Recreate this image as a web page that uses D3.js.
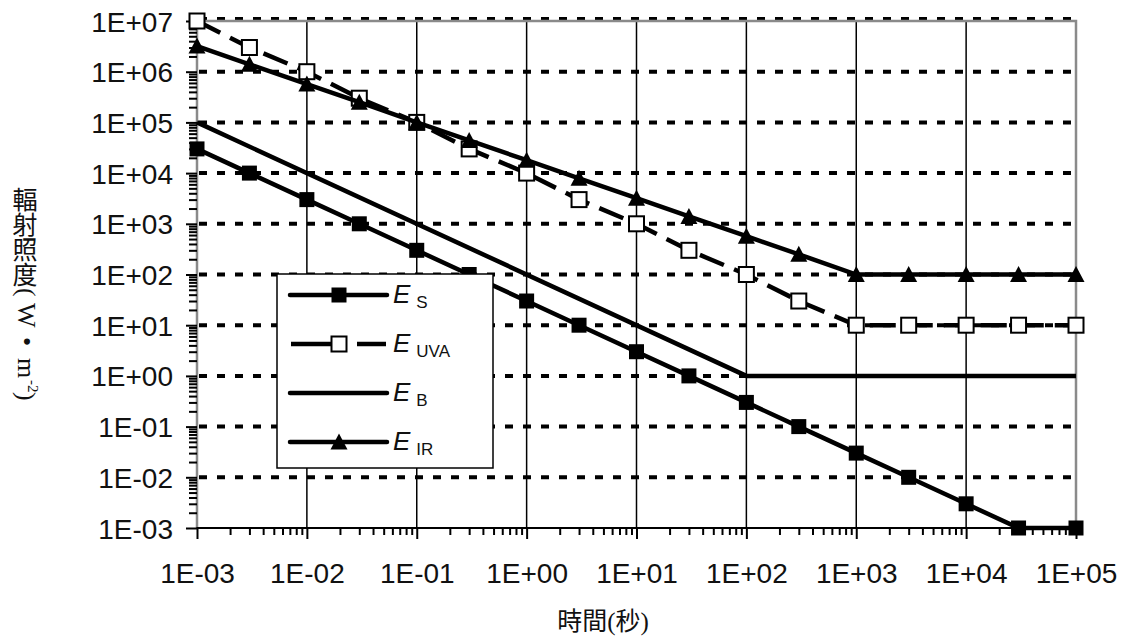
<!DOCTYPE html>
<html>
<head>
<meta charset="utf-8">
<script src="https://cdn.jsdelivr.net/npm/d3@7"></script>
<style>
  html, body { margin: 0; padding: 0; background: white; }
  svg { display: block; }
</style>
</head>
<body>
<div id="chart"></div>
<script>
// exposure times (s) shared by the marked series
const times = [1e-3, 3e-3, 1e-2, 3e-2, 0.1, 0.3, 1, 3, 10, 30, 100, 300, 1000, 3000, 1e4, 3e4, 1e5];
const esValues = [3e4, 1e4, 3e3, 1e3, 300, 100, 30, 10, 3, 1, 0.3, 0.1, 0.03, 0.01, 0.003, 0.001, 0.001];
const euvaValues = [1e7, 3e6, 1e6, 3e5, 1e5, 3e4, 1e4, 3e3, 1e3, 300, 100, 30, 10, 10, 10, 10, 10];
const eirValues = [3.2e6, 1.4e6, 5.7e5, 2.5e5, 1.0e5, 4.4e4, 1.8e4, 7.9e3, 3.2e3, 1.4e3, 570, 250, 100, 100, 100, 100, 100];
// E_B has no markers, only its corner points
const ebTimes = [1e-3, 100, 1e5];
const ebValues = [1e5, 1, 1];

const seriesNames = ['S', 'UVA', 'B', 'IR'];

const xTicks = [1e-3, 1e-2, 1e-1, 1e0, 1e1, 1e2, 1e3, 1e4, 1e5];
const xTickLabels = ['1E-03', '1E-02', '1E-01', '1E+00', '1E+01', '1E+02', '1E+03', '1E+04', '1E+05'];
const yTicks = [1e-3, 1e-2, 1e-1, 1e0, 1e1, 1e2, 1e3, 1e4, 1e5, 1e6, 1e7];
const yTickLabels = ['1E-03', '1E-02', '1E-01', '1E+00', '1E+01', '1E+02', '1E+03', '1E+04', '1E+05', '1E+06', '1E+07'];

const xTitle = '時間(秒)';
const yTitleCjk = '輻射照度';

const svgWidth = 1131;
const svgHeight = 636;
const plot = { left: 197, right: 1076, top: 21, bottom: 528 };
const tickFont = '"Liberation Sans", Arial, sans-serif';

const x = d3.scaleLog().domain([1e-3, 1e5]).range([plot.left, plot.right]);
const y = d3.scaleLog().domain([1e-3, 1e7]).range([plot.bottom, plot.top]);

// minor ticks 2..9 in each decade
const minorTicks = (domain) => {
  const out = [];
  for (let e = Math.log10(domain[0]); e < Math.log10(domain[1]); e++) {
    for (let m = 2; m <= 9; m++) out.push(m * Math.pow(10, e));
  }
  return out;
};

const svg = d3.select('#chart').append('svg')
  .attr('width', svgWidth)
  .attr('height', svgHeight)
  .style('background', 'white');

//vertical grid (solid, thin)
svg.append('g').selectAll('line')
  .data(xTicks.slice(1, -1))
  .join('line')
  .attr('x1', d => x(d)).attr('x2', d => x(d))
  .attr('y1', plot.top).attr('y2', plot.bottom)
  .attr('stroke', '#000').attr('stroke-width', 1.5);

//horizontal grid (thick dotted)
svg.append('g').selectAll('line')
  .data(yTicks.slice(1))
  .join('line')
  .attr('x1', plot.left + 2).attr('x2', plot.right)
  .attr('y1', d => y(d) - (d === 1e7 ? 2 : 0)).attr('y2', d => y(d) - (d === 1e7 ? 2 : 0))
  .attr('stroke', '#000').attr('stroke-width', 4)
  .attr('stroke-dasharray', '8,10');

//plot frame: grey top/right/left, black bottom
svg.append('path')
  .attr('d', `M${plot.left},${plot.bottom}V${plot.top}H${plot.right}V${plot.bottom}`)
  .attr('fill', 'none').attr('stroke', '#8a8a8a').attr('stroke-width', 2.5);

//x axis
const xAxisG = svg.append('g').attr('transform', `translate(0,${plot.bottom})`);
xAxisG.append('g')
  .call(d3.axisBottom(x).tickValues(minorTicks(x.domain())).tickFormat('').tickSize(7).tickSizeOuter(0))
  .call(g => g.select('.domain').remove())
  .call(g => g.selectAll('line').attr('stroke-width', 2));
xAxisG.append('g')
  .call(d3.axisBottom(x).tickValues(xTicks).tickFormat((d, i) => xTickLabels[i]).tickSize(11).tickSizeOuter(0))
  .call(g => g.select('.domain').remove())
  .call(g => g.selectAll('line').attr('stroke-width', 2).attr('y1', -1))
  .call(g => g.selectAll('text')
    .attr('y', 55).attr('dy', 0)
    .attr('font-family', tickFont).attr('font-size', 28).attr('fill', '#111'));
xAxisG.append('line')
  .attr('x1', plot.left).attr('x2', plot.right)
  .attr('stroke', '#000').attr('stroke-width', 2);

//y axis
const yAxisG = svg.append('g').attr('transform', `translate(${plot.left},0)`);
yAxisG.append('g')
  .call(d3.axisLeft(y).tickValues(minorTicks(y.domain())).tickFormat('').tickSize(8).tickSizeOuter(0))
  .call(g => g.select('.domain').remove())
  .call(g => g.selectAll('line').attr('stroke-width', 2));
yAxisG.append('g')
  .call(d3.axisLeft(y).tickValues(yTicks).tickFormat((d, i) => yTickLabels[i]).tickSize(11).tickSizeOuter(0))
  .call(g => g.select('.domain').remove())
  .call(g => g.selectAll('line').attr('stroke-width', 2))
  .call(g => g.selectAll('text')
    .attr('x', -24).attr('dy', 10)
    .attr('font-family', tickFont).attr('font-size', 28).attr('fill', '#111'));

//series
const line = d3.line().x(d => x(d[0])).y(d => y(d[1]));
const pairs = (xs, ys) => xs.map((t, i) => [t, ys[i]]);

const esData = pairs(times, esValues);
const euvaData = pairs(times, euvaValues);
const ebData = pairs(ebTimes, ebValues);
const eirData = pairs(times, eirValues);

const triPath = 'M0,-8.5L8.5,7.5L-8.5,7.5Z';

const drawSquares = (g, data, filled) => {
  g.selectAll('rect.m')
    .data(data)
    .join('rect').attr('class', 'm')
    .attr('x', d => x(d[0]) - 7.5).attr('y', d => y(d[1]) - 7.5)
    .attr('width', 15).attr('height', 15)
    .attr('fill', filled ? '#000' : '#fff')
    .attr('stroke', '#000').attr('stroke-width', filled ? 0 : 2);
};

// E_S
const gS = svg.append('g');
gS.append('path').attr('d', line(esData))
  .attr('fill', 'none').attr('stroke', '#000').attr('stroke-width', 4.5);
drawSquares(gS, esData, true);

// E_UVA
const gU = svg.append('g');
gU.append('path').attr('d', line(euvaData))
  .attr('fill', 'none').attr('stroke', '#000').attr('stroke-width', 4.5)
  .attr('stroke-dasharray', '26,11');
drawSquares(gU, euvaData, false);

// E_B
svg.append('path').attr('d', line(ebData))
  .attr('fill', 'none').attr('stroke', '#000').attr('stroke-width', 4.5);

// E_IR
const gI = svg.append('g');
gI.append('path').attr('d', line(eirData))
  .attr('fill', 'none').attr('stroke', '#000').attr('stroke-width', 4.5);
gI.selectAll('path.m')
  .data(eirData)
  .join('path').attr('class', 'm')
  .attr('d', triPath)
  .attr('transform', d => `translate(${x(d[0])},${y(d[1])})`)
  .attr('fill', '#000');

//legend
const legend = svg.append('g').attr('transform', 'translate(277,274)');
legend.append('rect')
  .attr('width', 216).attr('height', 194)
  .attr('fill', '#fff').attr('stroke', '#000').attr('stroke-width', 1.5);

const legendRow = i => 21 + i * 49;
seriesNames.forEach((name, i) => {
  const ly = legendRow(i);
  const row = legend.append('g').attr('transform', `translate(0,${ly})`);
  if (name === 'UVA') {
    row.append('line').attr('x1', 14).attr('x2', 56)
      .attr('stroke', '#000').attr('stroke-width', 4.5);
    row.append('line').attr('x1', 80).attr('x2', 109)
      .attr('stroke', '#000').attr('stroke-width', 4.5);
  } else {
    row.append('line').attr('x1', 13).attr('x2', 110)
      .attr('stroke', '#000').attr('stroke-width', 4.5).attr('stroke-linecap', 'round');
  }
  if (name === 'S' || name === 'UVA') {
    row.append('rect').attr('x', 54.5).attr('y', -7.5).attr('width', 15).attr('height', 15)
      .attr('fill', name === 'S' ? '#000' : '#fff')
      .attr('stroke', '#000').attr('stroke-width', name === 'S' ? 0 : 2);
  }
  if (name === 'IR') {
    row.append('path').attr('d', triPath).attr('transform', 'translate(62,0)').attr('fill', '#000');
  }
  const t = row.append('text')
    .attr('x', 116).attr('y', 8)
    .attr('font-family', tickFont).attr('fill', '#111');
  t.append('tspan').attr('font-size', 26).attr('font-style', 'italic').text('E');
  t.append('tspan').attr('font-size', 17).attr('dx', 6).attr('dy', 5).text(name);
});

//axis titles
svg.append('text')
  .attr('x', 603).attr('y', 630)
  .attr('text-anchor', 'middle')
  .attr('font-family', '"Liberation Serif", "Noto Sans CJK TC", serif')
  .attr('font-size', 25).attr('fill', '#111')
  .text(xTitle);

// CJK part stacked upright, unit part turned sideways
svg.append('text')
  .attr('x', 25).attr('y', 187)
  .style('writing-mode', 'vertical-rl')
  .attr('font-family', '"Noto Sans CJK TC", sans-serif')
  .attr('font-size', 25).attr('fill', '#111')
  .text(yTitleCjk);

const yUnit = svg.append('text')
  .attr('transform', 'translate(18,0) rotate(90)')
  .attr('font-family', '"Liberation Serif", serif')
  .attr('font-size', 26).attr('fill', '#111');
yUnit.append('tspan').attr('x', 288).text('(');
yUnit.append('tspan').attr('x', 303).text('W');
yUnit.append('tspan').attr('x', 337).text('•');
yUnit.append('tspan').attr('x', 358).text('m');
yUnit.append('tspan').attr('x', 380).attr('font-size', 15).attr('dy', -10).text('-2');
yUnit.append('tspan').attr('x', 392).attr('dy', 10).text(')');
</script>
</body>
</html>
